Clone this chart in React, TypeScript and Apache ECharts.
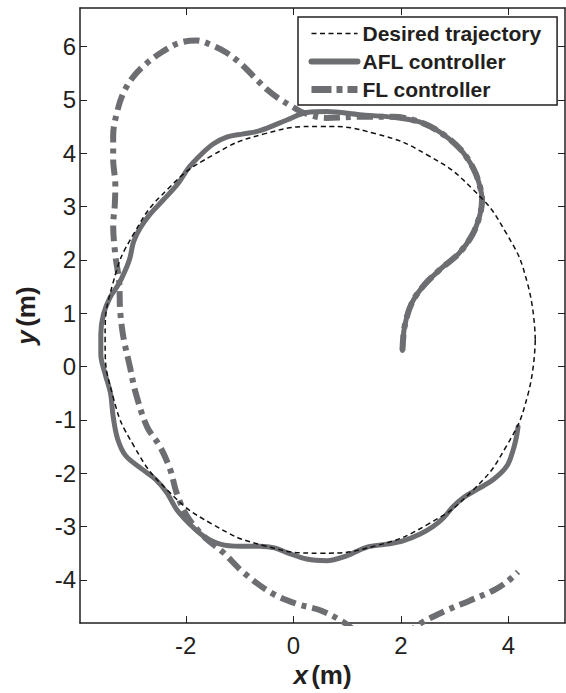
import { useEffect, useRef } from "react";
import * as echarts from "echarts";

// Axis windows (metres) and tick positions
const xRange = [-3.967, 5.053];
const yRange = [-4.811, 6.72];
const xTicks = [-2, 0, 2, 4];
const yTicks = [-4, -3, -2, -1, 0, 1, 2, 3, 4, 5, 6];

const seriesNames = ["Desired trajectory", "AFL controller", "FL controller"];

// Reference path: circle of radius 4 m about (0.5, 0.5)
const desired: [number, number][] = [
  [4.5, 0.5], [4.36, 1.54], [3.96, 2.5], [3.33, 3.33], [2.5, 3.96], [1.54, 4.36],
  [0.5, 4.5], [-0.54, 4.36], [-1.5, 3.96], [-2.33, 3.33], [-2.96, 2.5], [-3.36, 1.54],
  [-3.5, 0.5], [-3.36, -0.54], [-2.96, -1.5], [-2.33, -2.33], [-1.5, -2.96], [-0.54, -3.36],
  [0.5, -3.5], [1.54, -3.36], [2.5, -2.96], [3.33, -2.33], [3.96, -1.5], [4.36, -0.54],
  [4.5, 0.5],
];

// Adaptive feedback-linearising controller
const afl: [number, number][] = [
  [2.03, 0.3], [2.07, 0.75], [2.2, 1.18], [2.42, 1.51], [2.73, 1.82], [3.08, 2.12],
  [3.33, 2.47], [3.47, 2.84], [3.51, 3.12], [3.47, 3.38], [3.35, 3.71], [3.1, 4.08],
  [2.73, 4.39], [2.36, 4.58], [1.86, 4.67], [1.24, 4.72], [0.62, 4.78], [0.25, 4.76],
  [-0.12, 4.62], [-0.62, 4.42], [-0.93, 4.36], [-1.24, 4.3], [-1.49, 4.17], [-1.73, 3.96],
  [-1.95, 3.72], [-2.15, 3.42], [-2.42, 3.12], [-2.66, 2.86], [-2.85, 2.59], [-2.97, 2.34],
  [-3.04, 2.03], [-3.13, 1.79], [-3.25, 1.54], [-3.41, 1.29], [-3.53, 0.98], [-3.58, 0.61],
  [-3.58, 0.23], [-3.5, -0.14], [-3.4, -0.5], [-3.35, -0.94], [-3.27, -1.35], [-3.12, -1.67],
  [-2.82, -1.92], [-2.56, -2.12], [-2.35, -2.37], [-2.17, -2.68], [-1.92, -2.96], [-1.67, -3.18],
  [-1.36, -3.33], [-0.99, -3.37], [-0.62, -3.37], [-0.35, -3.4], [-0.12, -3.49], [0.25, -3.61],
  [0.62, -3.64], [0.99, -3.55], [1.36, -3.39], [1.74, -3.33], [2.04, -3.27], [2.36, -3.14],
  [2.6, -3.0], [2.79, -2.84], [2.97, -2.63], [3.16, -2.46], [3.41, -2.31], [3.72, -2.12],
  [3.97, -1.87], [4.09, -1.56], [4.15, -1.32], [4.18, -1.13],
];

// Plain feedback-linearising controller
const fl: [number, number][] = [
  [2.03, 0.3], [2.07, 0.75], [2.2, 1.18], [2.42, 1.51], [2.73, 1.82], [3.08, 2.12],
  [3.33, 2.47], [3.47, 2.84], [3.51, 3.12], [3.47, 3.38], [3.35, 3.71], [3.1, 4.08],
  [2.73, 4.39], [2.36, 4.58], [1.86, 4.68], [1.24, 4.68], [0.62, 4.66], [0.18, 4.76],
  [0.0, 4.86], [-0.28, 5.03], [-0.5, 5.2], [-0.74, 5.44], [-0.99, 5.69], [-1.24, 5.88],
  [-1.49, 6.01], [-1.8, 6.11], [-2.11, 6.07], [-2.42, 5.91], [-2.72, 5.69], [-2.97, 5.44],
  [-3.16, 5.13], [-3.28, 4.76], [-3.35, 4.33], [-3.35, 3.89], [-3.31, 3.4], [-3.32, 3.03],
  [-3.35, 2.65], [-3.31, 2.09], [-3.24, 1.6], [-3.22, 1.04], [-3.16, 0.55], [-3.04, 0.0],
  [-2.93, -0.5], [-2.72, -1.13], [-2.48, -1.5], [-2.29, -1.93], [-2.17, -2.37], [-1.98, -2.8],
  [-1.67, -3.18], [-1.3, -3.49], [-0.93, -3.86], [-0.4, -4.25], [0.06, -4.45], [0.5, -4.57],
  [0.93, -4.79], [1.3, -5.05], [1.7, -5.15], [2.05, -5.05], [2.36, -4.82], [2.79, -4.6],
  [3.28, -4.39], [3.72, -4.2], [3.97, -4.04], [4.18, -3.85],
];

const GRAY = "#6d6e71";
const INK = "#231f20";
const FONT = "'Liberation Sans', Arial, Helvetica, sans-serif";

const DESIRED_DASH = [5, 3.5];
const FL_DASH = [16, 6, 5, 6];

export default function App() {
  const ref = useRef<HTMLDivElement>(null);

  useEffect(() => {
    if (!ref.current) return;
    const chart = echarts.init(ref.current, null, { renderer: "svg" });

    const frameLine = { show: true, onZero: false, lineStyle: { color: INK, width: 1.5 } };
    const innerTicks = (values: number[]) => ({
      show: true,
      inside: true,
      length: 7,
      customValues: values,
      lineStyle: { color: INK, width: 1 },
    });
    const nameRich = {
      i: { fontFamily: FONT, fontSize: 26, fontWeight: "bold", fontStyle: "italic", color: INK },
      b: { fontFamily: FONT, fontSize: 26, fontWeight: "bold", color: INK },
    };
    const tickFont = { fontFamily: FONT, fontSize: 24, color: INK };

    chart.setOption({
      animation: false,
      backgroundColor: "#ffffff",
      grid: { left: 80, top: 8, right: 1, bottom: 65, containLabel: false },
      legend: {
        show: true,
        orient: "vertical",
        left: 298,
        top: 17,
        itemWidth: 46,
        itemHeight: 14,
        itemGap: 7,
        padding: [6, 16, 5, 10],
        borderColor: INK,
        borderWidth: 1.5,
        borderRadius: 0,
        backgroundColor: "#ffffff",
        itemStyle: { color: "transparent", borderWidth: 0 },
        textStyle: { fontFamily: FONT, fontSize: 21, fontWeight: "bold", color: INK },
        data: [
          { name: seriesNames[0], lineStyle: { color: "#111111", width: 1.5, type: DESIRED_DASH } },
          { name: seriesNames[1], lineStyle: { color: GRAY, width: 6, type: "solid" } },
          { name: seriesNames[2], lineStyle: { color: GRAY, width: 7, type: [20, 5, 6, 5] } },
        ],
      },
      xAxis: [
        {
          type: "value",
          position: "bottom",
          min: xRange[0],
          max: xRange[1],
          axisLine: frameLine,
          axisTick: innerTicks(xTicks),
          axisLabel: { customValues: xTicks, margin: 10, ...tickFont },
          splitLine: { show: false },
          name: "{i|x} {b|(m)}",
          nameLocation: "middle",
          nameGap: 35,
          nameTextStyle: { rich: nameRich },
        },
        {
          type: "value",
          position: "top",
          min: xRange[0],
          max: xRange[1],
          axisLine: frameLine,
          axisTick: innerTicks(xTicks),
          axisLabel: { show: false },
          splitLine: { show: false },
        },
      ],
      yAxis: [
        {
          type: "value",
          position: "left",
          min: yRange[0],
          max: yRange[1],
          axisLine: frameLine,
          axisTick: innerTicks(yTicks),
          axisLabel: { customValues: yTicks, margin: 4, ...tickFont },
          splitLine: { show: false },
          name: "{i|y} {b|(m)}",
          nameLocation: "middle",
          nameGap: 41,
          nameTextStyle: { rich: nameRich },
        },
        {
          type: "value",
          position: "right",
          min: yRange[0],
          max: yRange[1],
          axisLine: frameLine,
          axisTick: innerTicks(yTicks),
          axisLabel: { show: false },
          splitLine: { show: false },
        },
      ],
      series: [
        {
          name: seriesNames[1],
          type: "line",
          data: afl,
          smooth: 0.35,
          symbol: "none",
          z: 2,
          lineStyle: { color: GRAY, width: 5, cap: "round", join: "round" },
          itemStyle: { color: GRAY },
        },
        {
          name: seriesNames[2],
          type: "line",
          data: fl,
          smooth: 0.35,
          symbol: "none",
          z: 3,
          lineStyle: { color: GRAY, width: 6, type: FL_DASH, cap: "butt" },
          itemStyle: { color: GRAY },
        },
        {
          name: seriesNames[0],
          type: "line",
          data: desired,
          smooth: 0.5,
          symbol: "none",
          z: 4,
          lineStyle: { color: "#111111", width: 1.5, type: DESIRED_DASH },
          itemStyle: { color: "#111111" },
        },
      ],
    });

    return () => chart.dispose();
  }, []);

  return (
    <div
      ref={ref}
      style={{ position: "absolute", left: 0, top: 0, width: 566, height: 693 }}
    />
  );
}
